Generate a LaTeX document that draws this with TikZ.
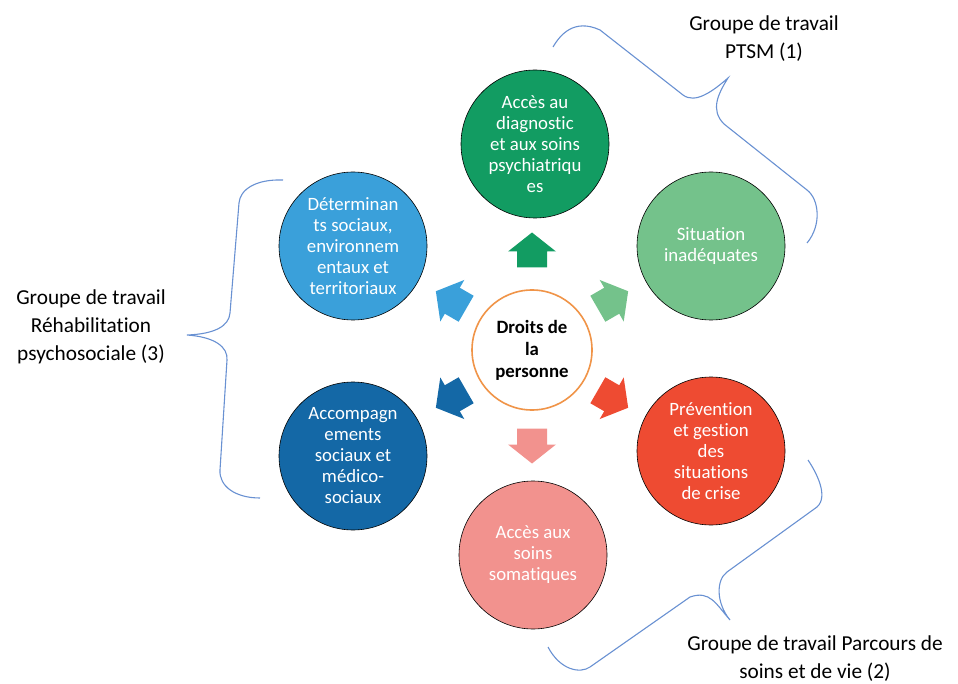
\documentclass[tikz,border=0pt]{standalone}
\usepackage{fontspec}
\setmainfont{Carlito}[Ligatures={NoCommon}]
\definecolor{cgreen}{RGB}{18,156,98}
\definecolor{clgreen}{RGB}{116,194,139}
\definecolor{cred}{RGB}{238,75,50}
\definecolor{cpink}{RGB}{242,146,142}
\definecolor{cdblue}{RGB}{20,104,166}
\definecolor{clblue}{RGB}{58,160,218}
\definecolor{corange}{RGB}{240,148,72}
\definecolor{bracecol}{RGB}{105,145,210}
\newcommand\myblockarrow[3]{%
  \fill[#3, shift={#1}, rotate=#2] (-15,17.5) -- (15,17.5) -- (15,1.5) -- (24,1.5) -- (0,-17.5) -- (-24,1.5) -- (-15,1.5) -- cycle;}
\begin{document}
\begin{tikzpicture}[x=1pt,y=-1pt,
  bubble/.style={circle, draw=black, line width=0.6pt, minimum size=148pt, inner sep=0pt, align=center, text=white, font=\fontsize{18.8}{21}\selectfont},
  hub/.style={circle, draw=corange, fill=white, line width=1.6pt, minimum size=120pt, inner sep=0pt, align=center, font=\bfseries\fontsize{18.8}{22}\selectfont},
  bracepath/.style={draw=bracecol, line width=1.1pt},
  grp/.style={align=center, font=\fontsize{21.3}{28}\selectfont, text=black}]
\useasboundingbox (0,0) rectangle (958,684);
% central node
\node[hub] (c) at (532,350) {Droits de\\la\\personne};
% outer bubbles
\node[bubble, fill=cgreen] (n1) at (535,144) {Accès au\\diagnostic\\et aux soins\\psychiatriqu\\es};
\node[bubble, fill=clgreen] (n2) at (711,246) {Situation\\inadéquates};
\node[bubble, fill=cred] (n3) at (711,451) {Prévention\\et gestion\\des\\situations\\de crise};
\node[bubble, fill=cpink] (n4) at (533,555) {Accès aux\\soins\\somatiques};
\node[bubble, fill=cdblue] (n5) at (353,456) {Accompagn\\ements\\sociaux et\\médico-\\sociaux};
\node[bubble, fill=clblue] (n6) at (353,246) {Déterminan\\ts sociaux,\\environnem\\entaux et\\territoriaux};
% block arrows
\myblockarrow{(532,250)}{0}{cgreen}
\myblockarrow{(613,300)}{-60}{clgreen}
\myblockarrow{(613,399)}{-120}{cred}
\myblockarrow{(532,446)}{180}{cpink}
\myblockarrow{(451,399)}{120}{cdblue}
\myblockarrow{(451,300)}{60}{clblue}
% braces
\draw[bracepath] (553,47) .. controls (560,35) and (574,18) .. (600,30) -- (683,95)
  .. controls (695,104) and (712,92) .. (728,78)
  .. controls (718,94) and (710,110) .. (724,124) -- (807,190)
  .. controls (819,199) and (822,225) .. (807,243);
\draw[bracepath] (808,460) .. controls (816,472) and (829,496) .. (817,507) -- (727,572)
  .. controls (716,580) and (716,603) .. (730,620)
  .. controls (716,604) and (710,590) .. (690,597) -- (590,667)
  .. controls (580,674) and (560,670) .. (548,647);
\draw[bracepath] (283,180) .. controls (255,179) and (240,190) .. (239,203) -- (230,313)
  .. controls (229,326) and (215,334) .. (187,335)
  .. controls (215,337) and (228,347) .. (227,360) -- (220,470)
  .. controls (219,486) and (235,498) .. (260,498);
% group labels
\node[grp] (g1) at (764,39) {Groupe de travail\\PTSM (1)};
\node[grp] (g2) at (815,659) {Groupe de travail Parcours de\\soins et de vie (2)};
\node[grp] (g3) at (91,327) {Groupe de travail\\Réhabilitation\\psychosociale (3)};
\end{tikzpicture}
\end{document}
